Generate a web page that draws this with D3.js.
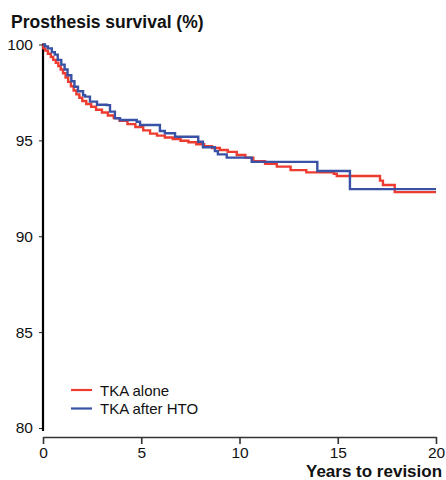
<!DOCTYPE html>
<html>
<head>
<meta charset="utf-8">
<script src="https://cdn.jsdelivr.net/npm/d3@7"></script>
<style>
  body { margin: 0; background: #fff; }
  svg { display: block; font-family: "Liberation Sans", Arial, Helvetica, sans-serif; }
</style>
</head>
<body>
<svg id="chart" width="446" height="480"></svg>
<script>
// ---- data ----
const xTicks = [0, 5, 10, 15, 20];
const yTicks = [80, 85, 90, 95, 100];

const tkaAloneTime = [0, 0.02, 0.12, 0.25, 0.4, 0.52, 0.65, 0.78, 0.9, 1.02, 1.15, 1.28, 1.42, 1.56, 1.7, 1.85, 2.0, 2.2, 2.45, 2.7, 3.0, 3.3, 3.6, 3.9, 4.3, 4.7, 5.1, 5.45, 5.8, 6.2, 6.6, 7.0, 7.4, 7.8, 8.2, 8.6, 9.0, 9.4, 9.86, 10.3, 10.7, 11.3, 11.9, 12.6, 13.4, 14.8, 14.95, 17.15, 17.3, 17.9, 20];
const tkaAloneSurv = [100, 99.8, 99.68, 99.52, 99.35, 99.2, 99.05, 98.88, 98.7, 98.5, 98.28, 98.05, 97.82, 97.6, 97.4, 97.22, 97.05, 96.9, 96.75, 96.6, 96.45, 96.3, 96.16, 96.02, 95.85, 95.7, 95.52, 95.35, 95.25, 95.15, 95.07, 94.98, 94.9, 94.8, 94.7, 94.6, 94.5, 94.4, 94.24, 94.1, 93.92, 93.78, 93.63, 93.45, 93.33, 93.26, 93.14, 92.9, 92.67, 92.3, 92.3];

const tkaHtoTime = [0, 0.1, 0.25, 0.45, 0.6, 0.75, 0.93, 1.1, 1.25, 1.44, 1.6, 1.78, 2.04, 2.14, 2.39, 2.75, 3.24, 3.41, 3.66, 3.92, 4.77, 4.94, 5.95, 6.2, 6.72, 7.9, 8.14, 8.75, 8.9, 9.35, 10.62, 13.96, 15.62, 20];
const tkaHtoSurv = [100, 99.9, 99.8, 99.6, 99.47, 99.2, 98.95, 98.7, 98.4, 98.08, 97.8, 97.56, 97.35, 97.28, 97.02, 96.86, 96.84, 96.5, 96.15, 96.06, 95.97, 95.8, 95.49, 95.37, 95.19, 94.93, 94.64, 94.44, 94.27, 94.1, 93.88, 93.4, 92.46, 92.46];

const seriesNames = ["TKA alone", "TKA after HTO"];
const seriesColors = ["#ee3b2f", "#3a52a6"];

// ---- chart ----
const svg = d3.select("#chart");
const x = d3.scaleLinear().domain([0, 20]).range([43, 436]);
const y = d3.scaleLinear().domain([80, 100]).range([428, 44.5]);

// title
svg.append("text")
  .attr("x", 11).attr("y", 28)
  .attr("font-size", 17.5).attr("font-weight", "bold")
  .attr("fill", "#111")
  .text("Prosthesis survival (%)");

// y axis
const yAxis = svg.append("g")
  .attr("transform", "translate(43,0)")
  .call(d3.axisLeft(y).tickValues(yTicks).tickSize(4).tickSizeOuter(0).tickPadding(6));
yAxis.select(".domain").remove();
yAxis.selectAll(".tick line").attr("stroke", "#222").attr("stroke-width", 1);
yAxis.selectAll(".tick text").attr("font-size", 15.5).attr("fill", "#111");
svg.append("line")
  .attr("x1", 43).attr("x2", 43)
  .attr("y1", y(100) - 1).attr("y2", 431)
  .attr("stroke", "#000").attr("stroke-width", 2.2);

// x axis
const xAxis = svg.append("g")
  .attr("transform", "translate(0,437)")
  .call(d3.axisBottom(x).tickValues(xTicks).tickSize(7).tickSizeOuter(0).tickPadding(3));
xAxis.select(".domain").attr("stroke", "#333").attr("stroke-width", 1.6);
xAxis.selectAll(".tick line").attr("stroke", "#333").attr("stroke-width", 1.6);
xAxis.selectAll(".tick text").attr("font-size", 15.5).attr("fill", "#111");

svg.append("text")
  .attr("x", 306).attr("y", 477)
  .attr("font-size", 17).attr("font-weight", "bold")
  .attr("fill", "#111")
  .text("Years to revision");

// curves
const line = d3.line()
  .x(d => x(d[0]))
  .y(d => y(d[1]))
  .curve(d3.curveStepAfter);

const series = [
  d3.zip(tkaAloneTime, tkaAloneSurv),
  d3.zip(tkaHtoTime, tkaHtoSurv)
];

series.forEach((s, i) => {
  svg.append("path")
    .datum(s)
    .attr("d", line)
    .attr("fill", "none")
    .attr("stroke", seriesColors[i])
    .attr("stroke-width", 2.4);
});

// legend
const legend = svg.append("g");
seriesNames.forEach((name, i) => {
  const ly = 390 + i * 18.5;
  legend.append("line")
    .attr("x1", 71).attr("x2", 92)
    .attr("y1", ly).attr("y2", ly)
    .attr("stroke", seriesColors[i]).attr("stroke-width", 2.2);
  legend.append("text")
    .attr("x", 100).attr("y", ly + 5.5)
    .attr("font-size", 15).attr("fill", "#111")
    .text(name);
});
</script>
</body>
</html>
